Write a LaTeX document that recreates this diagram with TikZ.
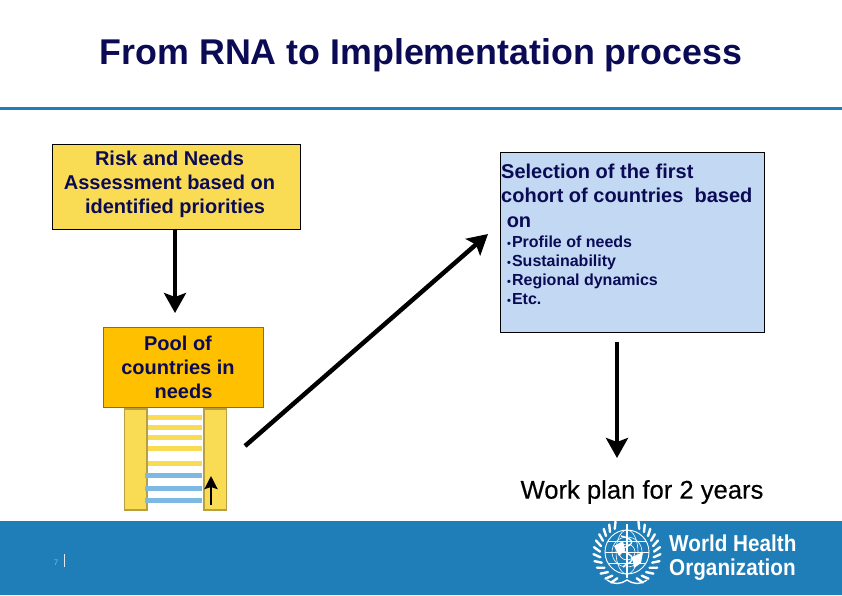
\documentclass[tikz,border=0pt]{standalone}
\usepackage{fontspec}
\setmainfont{Liberation Sans}
\newfontfamily\semifont[FakeBold=0.4]{Liberation Sans}
\usetikzlibrary{positioning}
\usetikzlibrary{arrows.meta}
\definecolor{whoblue}{HTML}{1F7DB8}
\definecolor{inkblue}{HTML}{0B0B55}
\definecolor{riskyellow}{HTML}{FADC54}
\definecolor{poolorange}{HTML}{FFC000}
\definecolor{selectblue}{HTML}{C3D8F2}
\definecolor{railedge}{HTML}{B8A040}
\definecolor{rungblue}{HTML}{7DB9E3}
\newcommand{\smalldot}{{\fontsize{11}{11}\selectfont•}\hspace{1pt}}
\tikzset{%
    box/.style={rectangle, draw, anchor=north west, inner sep=0pt, text=inkblue},
    rail/.style={rectangle, draw=railedge, line width=1.8pt, fill=riskyellow, anchor=north west, inner sep=0pt, minimum width=22.5pt, minimum height=101pt},
    bigarrow/.style={draw, line width=4.5pt, -{Stealth[width=22pt,length=20pt,inset=4pt]}},
    rung/.style={line width=5pt},
    leaf/.style={draw=white, line width=1pt, fill=none},
    label/.style={text=inkblue, font=\fontsize{20}{24.3}\selectfont\bfseries, align=left, inner sep=0pt}
}
\begin{document}
\begin{tikzpicture}[x=1pt, y=-1pt]
    \useasboundingbox (0,0) rectangle (842,595);
    \node[text=inkblue, font=\fontsize{35.8}{40}\selectfont\bfseries, inner sep=0pt] (title) at (421,55) {From RNA to Implementation process};
    \fill[whoblue] (0,106.5) rectangle (842,110);
    \fill[whoblue] (0,521) rectangle (842,595);
    % boxes
    \node[box, fill=riskyellow, draw=black, minimum width=248pt, minimum height=85.5pt] (risk) at (52,143.5) {};
    \node[label, align=center] (risktext) at (169.5,184.5) {Risk and Needs\\Assessment based on\\\ \ identified priorities};
    \node[box, fill=selectblue, draw=black, minimum width=264pt, minimum height=180pt] (select) at (500,152) {};
    \node[label, anchor=north west, font=\fontsize{20}{24.6}\selectfont\bfseries] (selecttext) at (501,163.5) {Selection of the first\\cohort of countries\ \ based\\\ on};
    \node[label, anchor=north west, font=\fontsize{16}{19}\selectfont\bfseries] (bullets) at (507,236) {\smalldot Profile of needs\\\smalldot Sustainability\\\smalldot Regional dynamics\\\smalldot Etc.};
    % ladder
    \node[rail] (railleft) at (123.5,408) {};
    \node[rail] (railright) at (203,408) {};
    \foreach \y in {417.5,427.5,437.5,448,463} {
        \draw[rung, riskyellow] (147.5,\y) -- (202,\y);
    }
    \foreach \y in {475.5,488,500} {
        \draw[rung, rungblue] (145,\y) -- (202,\y);
    }
    \node[box, fill=poolorange, draw=railedge!70!black, minimum width=160pt, minimum height=80pt] (pool) at (103,327) {};
    \node[label, align=center] (pooltext) at (178,367.5) {Pool of\\countries in\\\ \ needs};
    \node[inner sep=0pt, font=\fontsize{25.6}{26}\selectfont\semifont, text=black] (plan) at (642,492) {Work plan for 2 years};
    % arrows
    \coordinate (riskend) at (175,313);
    \coordinate (climbstart) at (245,446);
    \coordinate (climbend) at (488,234);
    \coordinate (selectstart) at (617,342);
    \coordinate (selectend) at (617,458);
    \coordinate (railstart) at (211,505);
    \coordinate (railend) at (211,476);
    \draw[bigarrow] (175,229) -- (riskend);
    \draw[bigarrow] (climbstart) -- (climbend);
    \draw[bigarrow] (selectstart) -- (selectend);
    \draw[line width=2.6pt, -{Stealth[width=13pt,length=13pt,inset=2pt]}] (railstart) -- (railend);
    % footer
    \node[inner sep=0pt, text=rungblue, font=\fontsize{8}{8}\selectfont] (page) at (56,563) {7};
    \coordinate (pagetop) at (64,554);
    \coordinate (pagebottom) at (64,567);
    \draw[white!85!whoblue, line width=0.8pt] (pagetop) -- (pagebottom);
    \node[inner sep=0pt, text=white, font=\fontsize{23}{24}\selectfont\bfseries, align=left, anchor=west, xscale=0.9] (who) at (669,558) {World Health\\Organization};
    % emblem
    \coordinate (emblem) at (627,552);
    \draw[leaf, line width=0.9pt] (emblem) circle (22);
    \draw[leaf, line width=0.6pt] (emblem) circle (15);
    \draw[leaf, line width=0.6pt] (emblem) circle (8);
    \draw[leaf, line width=0.6pt] (605,552) -- (649,552);
    \draw[leaf, line width=0.6pt] (emblem) ellipse (11 and 22);
    \foreach \y in {541,563} {
        \draw[leaf, line width=0.6pt] (608,\y) -- (646,\y);
    }
    \fill[white] (614,546) -- (623,541) -- (625,550) -- (619,556) -- cycle;
    \fill[white] (632,557) -- (643,552) -- (641,563) -- (634,568) -- cycle;
    \draw[white, line width=2pt] (627,524) -- (627,578);
    \draw[white, line width=1.4pt] (621,536) .. controls (635,539) and (635,545) .. (622,548) .. controls (618,551) and (635,554) .. (632,560) .. controls (630,564) and (625,564) .. (623,567);
    \foreach \a in {117,129,...,249} {
        \draw[white, line width=2.4pt, line cap=round] ({627+27*cos(\a)},{553-27*sin(\a)}) -- ({627+33.5*cos(\a-7)},{553-33.5*sin(\a-7)});
        \draw[white, line width=2.4pt, line cap=round] ({627-27*cos(\a)},{553-27*sin(\a)}) -- ({627-33.5*cos(\a-7)},{553-33.5*sin(\a-7)});
    }
    \draw[white, line width=1.4pt] (607,580) .. controls (615,585) and (621,584) .. (627,580) .. controls (633,584) and (639,585) .. (647,580);
\end{tikzpicture}
\end{document}
